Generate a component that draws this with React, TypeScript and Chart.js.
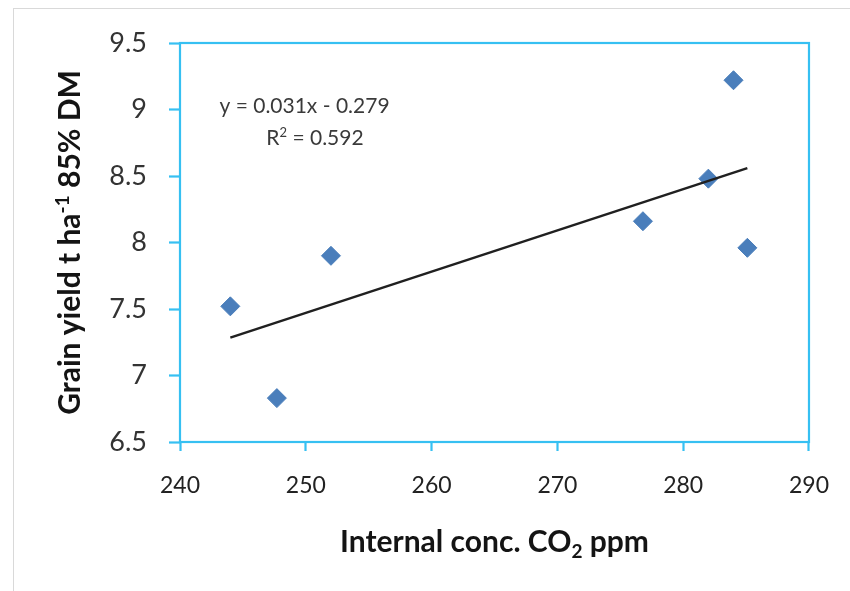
import React, { useEffect, useRef } from "react";
import { Chart, registerables } from "chart.js";

Chart.register(...registerables);

// Internal CO2 concentration (ppm) and grain yield (t/ha, 85% DM)
const co2Ppm = [244, 247.7, 252, 276.8, 282, 284, 285.1];
const grainYield = [7.52, 6.83, 7.9, 8.16, 8.48, 9.22, 7.96];

// Linear trend line fitted to the points
const trendSlope = 0.031;
const trendIntercept = -0.279;
const rSquared = 0.592;

// Axis ranges and tick steps
const xRange = [240, 290];
const xStep = 10;
const yRange = [6.5, 9.5];
const yStep = 0.5;

const FONT = "Lato, 'Open Sans', sans-serif";
const AXIS_BLUE = "#36C0F2";
const POINT_BLUE = "#4A7EBB";

type Seg = { t: string; v?: "sup" | "sub" };

function drawRich(
  ctx: CanvasRenderingContext2D,
  segs: Seg[],
  x: number,
  y: number,
  size: number,
  weight: string,
  color: string,
  rotation = 0
) {
  ctx.save();
  ctx.translate(x, y);
  ctx.rotate(rotation);
  ctx.fillStyle = color;
  ctx.textBaseline = "alphabetic";
  ctx.textAlign = "left";
  const fontFor = (s: Seg) => `${weight} ${s.v ? Math.round(size * 0.62) : size}px ${FONT}`;
  let total = 0;
  const widths = segs.map((s) => {
    ctx.font = fontFor(s);
    const w = ctx.measureText(s.t).width;
    total += w;
    return w;
  });
  let cx = -total / 2;
  segs.forEach((s, i) => {
    ctx.font = fontFor(s);
    const dy = s.v === "sup" ? -size * 0.36 : s.v === "sub" ? size * 0.2 : 0;
    ctx.fillText(s.t, cx, dy);
    cx += widths[i];
  });
  ctx.restore();
}

const decorations = {
  id: "decorations",
  beforeDraw(chart: any) {
    const { ctx, width, height } = chart;
    ctx.save();
    ctx.fillStyle = "#ffffff";
    ctx.fillRect(0, 0, width, height);
    // outer frame
    ctx.strokeStyle = "#D9D9D9";
    ctx.lineWidth = 1;
    ctx.strokeRect(13.5, 8.5, width + 10, height + 10);
    ctx.restore();
  },
  beforeDatasetsDraw(chart: any) {
    const { ctx, chartArea: a } = chart;
    ctx.save();
    ctx.strokeStyle = AXIS_BLUE;
    ctx.lineWidth = 2.2;
    ctx.strokeRect(a.left, a.top, a.right - a.left, a.bottom - a.top);
    ctx.restore();
  },
  afterDraw(chart: any) {
    const { ctx, chartArea: a } = chart;
    // axis titles
    drawRich(
      ctx,
      [{ t: "Internal conc. CO" }, { t: "2", v: "sub" }, { t: " ppm" }],
      (a.left + a.right) / 2,
      a.bottom + 110,
      30,
      "bold",
      "#141414"
    );
    drawRich(
      ctx,
      [{ t: "Grain yield t ha" }, { t: "-1", v: "sup" }, { t: " 85% DM" }],
      a.left - 100,
      (a.top + a.bottom) / 2,
      30,
      "bold",
      "#141414",
      -Math.PI / 2
    );
    // trend line equation
    const sign = trendIntercept < 0 ? "-" : "+";
    drawRich(
      ctx,
      [{ t: `y = ${trendSlope}x ${sign} ${Math.abs(trendIntercept)}` }],
      a.left + 124.5,
      a.top + 70,
      21,
      "normal",
      "#3a3a3a"
    );
    drawRich(
      ctx,
      [{ t: "R" }, { t: "2", v: "sup" }, { t: ` = ${rSquared}` }],
      a.left + 135,
      a.top + 102,
      21,
      "normal",
      "#3a3a3a"
    );
  },
};

export default function App() {
  const canvasRef = useRef<HTMLCanvasElement | null>(null);

  useEffect(() => {
    let chart: Chart | null = null;
    let cancelled = false;
    const build = () => {
      if (cancelled || !canvasRef.current) return;
      const points = co2Ppm.map((x, i) => ({ x, y: grainYield[i] }));
      const minX = Math.min(...co2Ppm);
      const maxX = Math.max(...co2Ppm);
      const trend = [minX, maxX].map((x) => ({ x, y: trendSlope * x + trendIntercept }));

      chart = new Chart(canvasRef.current, {
        type: "scatter",
        data: {
          datasets: [
            {
              type: "line",
              label: "Linear trend",
              data: trend,
              borderColor: "#202020",
              borderWidth: 2.5,
              pointRadius: 0,
              fill: false,
              order: 0,
            },
            {
              label: "Grain yield",
              data: points,
              pointStyle: "rectRot",
              pointRadius: 9.5,
              backgroundColor: POINT_BLUE,
              borderColor: POINT_BLUE,
              borderWidth: 1,
              order: 1,
            },
          ],
        },
        options: {
          responsive: false,
          animation: false,
          devicePixelRatio: 1,
          layout: { padding: { top: 43, right: 39, left: 0, bottom: 0 } },
          plugins: {
            legend: { display: false },
            tooltip: { enabled: false },
            title: { display: false },
          },
          scales: {
            x: {
              type: "linear",
              min: xRange[0],
              max: xRange[1],
              ticks: {
                stepSize: xStep,
                color: "#222222",
                font: { family: FONT, size: 23 },
                padding: 21,
                maxRotation: 0,
              },
              grid: {
                drawOnChartArea: false,
                drawTicks: true,
                tickLength: 9,
                tickColor: AXIS_BLUE,
                tickWidth: 2.2,
              },
              border: { display: false },
              afterFit: (scale: any) => {
                scale.height = 149;
              },
            },
            y: {
              type: "linear",
              min: yRange[0],
              max: yRange[1],
              ticks: {
                stepSize: yStep,
                color: "#333333",
                font: { family: FONT, size: 27 },
                padding: 22,
                callback: (v: any) => String(Math.round(Number(v) * 10) / 10),
              },
              grid: {
                drawOnChartArea: false,
                drawTicks: true,
                tickLength: 11,
                tickColor: AXIS_BLUE,
                tickWidth: 2.2,
              },
              border: { display: false },
              afterFit: (scale: any) => {
                scale.width = 180;
              },
            },
          },
        },
        plugins: [decorations],
      });
    };

    const fonts = (document as any).fonts;
    if (fonts && fonts.load) {
      Promise.all([
        fonts.load(`27px Lato`),
        fonts.load(`bold 30px Lato`),
      ])
        .catch(() => undefined)
        .then(build);
    } else {
      build();
    }
    return () => {
      cancelled = true;
      if (chart) chart.destroy();
    };
  }, []);

  return (
    <div style={{ position: "absolute", left: 0, top: 0, width: 850, height: 591, background: "#fff" }}>
      <canvas ref={canvasRef} width={850} height={591} style={{ display: "block" }} />
    </div>
  );
}
